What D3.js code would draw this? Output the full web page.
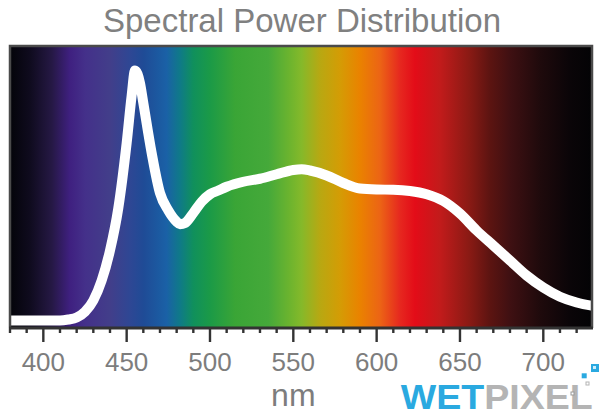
<!DOCTYPE html>
<html>
<head>
<meta charset="utf-8">
<script src="https://cdn.jsdelivr.net/npm/d3@7/dist/d3.min.js"></script>
<style>
  html, body { margin: 0; padding: 0; background: #fff; }
  svg { display: block; }
  text { font-family: "Liberation Sans", Arial, sans-serif; }
</style>
</head>
<body>
<div id="chart"></div>
<script>
// ---- data ----
const title = "Spectral Power Distribution";
const axisLabel = "nm";
const tickLabels = [400, 450, 500, 550, 600, 650, 700];
const wavelengths = [380, 390, 400, 410, 415, 420, 425, 430, 435, 440, 445, 450, 453, 455, 458, 460, 465, 470, 475, 480, 482, 485, 490, 495, 500, 505, 510, 520, 530, 540, 550, 555, 560, 570, 580, 590, 600, 610, 620, 630, 640, 650, 660, 670, 680, 690, 700, 710, 720, 730];
const power =       [0,   0,   0,   0,   0.004, 0.012, 0.035, 0.08, 0.16, 0.28, 0.45, 0.71, 0.9, 1.0, 0.95, 0.87, 0.67, 0.51, 0.44, 0.395, 0.385, 0.39, 0.43, 0.475, 0.505, 0.52, 0.535, 0.555, 0.567, 0.585, 0.602, 0.605, 0.6, 0.58, 0.55, 0.528, 0.524, 0.523, 0.518, 0.505, 0.478, 0.428, 0.36, 0.3, 0.24, 0.18, 0.132, 0.095, 0.072, 0.058];
const spectrumNm =     [380, 392, 405, 416, 425, 440, 452, 460, 474, 482, 490, 500, 515, 535, 548, 555, 566, 578, 590, 602, 614, 623, 638, 656, 668, 680, 698, 716, 730];
const spectrumColors = ["#040409", "#0f0b1e", "#251844", "#3f2080", "#44308a", "#423e8a", "#2e4794", "#1f4b96", "#1a61a6", "#0f7a88", "#10905c", "#1b9a47", "#3aa536", "#45a93a", "#6db42e", "#85b92a", "#b8a812", "#d49c05", "#ea8200", "#ec6415", "#e6281f", "#e30c18", "#c21b1b", "#881a14", "#5c1411", "#3f1012", "#1f0a0c", "#0a0508", "#030305"];

// ---- layout ----
const W = 600, H = 417;
const svg = d3.select("#chart").append("svg").attr("width", W).attr("height", H);

const x = d3.scaleLinear().domain([380, 730]).range([10, 593.3]);
const y = d3.scaleLinear().domain([0, 1]).range([320.5, 70.5]);
const pTop = 46, pBottom = 328, pLeft = 10, pRight = 592;

// gradient
const defs = svg.append("defs");
const grad = defs.append("linearGradient").attr("id", "spec")
  .attr("gradientUnits", "userSpaceOnUse")
  .attr("x1", x(380)).attr("x2", x(730)).attr("y1", 0).attr("y2", 0);
spectrumNm.forEach((nm, i) => {
  grad.append("stop")
    .attr("offset", (x(nm) - x(380)) / (x(730) - x(380)))
    .attr("stop-color", spectrumColors[i]);
});
defs.append("clipPath").attr("id", "clip").append("rect")
  .attr("x", pLeft).attr("y", pTop).attr("width", pRight - pLeft).attr("height", pBottom - pTop);

svg.append("rect").attr("x", pLeft).attr("y", pTop).attr("width", pRight - pLeft).attr("height", pBottom - pTop)
  .attr("fill", "url(#spec)");

const data = wavelengths.map((w, i) => ({ w, v: power[i] }));
svg.append("path").datum(data)
  .attr("clip-path", "url(#clip)")
  .attr("fill", "none").attr("stroke", "#fff").attr("stroke-width", 10)
  .attr("stroke-linejoin", "round")
  .attr("d", d3.line().x(d => x(d.w)).y(d => y(d.v)).curve(d3.curveMonotoneX));

// frame
svg.append("path")
  .attr("d", `M${pLeft},${pBottom} L${pLeft},${pTop} L${pRight},${pTop} L${pRight},${pBottom}`)
  .attr("fill", "none").attr("stroke", "#4a4a4a").attr("stroke-width", 2.5);

// axis
const axisG = svg.append("g").attr("transform", `translate(0,${pBottom})`);
axisG.append("line").attr("x1", pLeft - 1).attr("x2", pRight + 1).attr("y1", 0).attr("y2", 0)
  .attr("stroke", "#333").attr("stroke-width", 2.8);
const minor = d3.range(380, 730, 10);
axisG.selectAll("line.tick").data(minor).enter().append("line")
  .attr("class", "tick")
  .attr("x1", d => x(d)).attr("x2", d => x(d))
  .attr("y1", 0).attr("y2", d => d % 50 === 0 ? 14 : 5)
  .attr("stroke", "#333").attr("stroke-width", 2.4);
axisG.selectAll("text.lbl").data(tickLabels).enter().append("text")
  .attr("class", "lbl")
  .attr("x", d => x(d)).attr("y", 370.5 - pBottom)
  .attr("text-anchor", "middle").attr("font-size", 26).attr("fill", "#7d7d7d")
  .text(d => d);

svg.append("text").attr("x", x(550)).attr("y", 406)
  .attr("text-anchor", "middle").attr("font-size", 32).attr("fill", "#7d7d7d")
  .text(axisLabel);

svg.append("text").attr("x", 302).attr("y", 32)
  .attr("text-anchor", "middle").attr("font-size", 33).attr("fill", "#808080")
  .text(title);

// logo
const logo = svg.append("g");
const lt = logo.append("text").attr("x", 400.7).attr("y", 409).attr("font-size", 35.5).attr("font-weight", "bold")
  .attr("textLength", 192).attr("lengthAdjust", "spacingAndGlyphs");
lt.append("tspan").attr("fill", "#2aa9e0").text("WET");
lt.append("tspan").attr("fill", "#b4b4b4").text("PIXEL");
logo.append("rect").attr("x", 591).attr("y", 364).attr("width", 8).attr("height", 8).attr("fill", "#2aa9e0");
logo.append("rect").attr("x", 593).attr("y", 366).attr("width", 3).attr("height", 3).attr("fill", "#cfeefc");
logo.append("rect").attr("x", 581.7).attr("y", 373.3).attr("width", 5).attr("height", 5).attr("fill", "#2aa9e0");
logo.append("rect").attr("x", 586).attr("y", 382).attr("width", 3).attr("height", 3).attr("fill", "none").attr("stroke", "#b4b4b4").attr("stroke-width", 1);
logo.append("rect").attr("x", 571).attr("y", 392).attr("width", 3).attr("height", 3).attr("fill", "#fff").attr("stroke", "#999").attr("stroke-width", 1);
</script>
</body>
</html>
